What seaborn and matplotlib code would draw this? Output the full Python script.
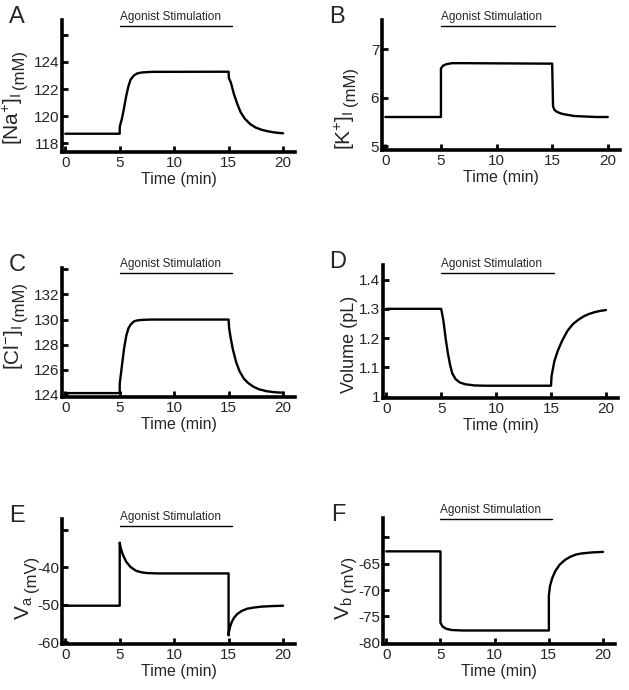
import matplotlib
matplotlib.use("Agg")
import matplotlib.pyplot as plt
import pandas as pd
import seaborn as sns

# ---- data ----
na_time = [0, 5.0, 5.0, 5.03, 5.2, 5.4, 5.6, 5.8, 6.0, 6.3, 6.6, 7.0, 7.5, 8.0,
           15.0, 15.03, 15.2, 15.5, 15.8, 16.1, 16.5, 17.0, 17.5, 18.0, 18.5, 19.0, 19.5, 20.0]
na_conc = [118.7, 118.7, 119.1, 119.3, 119.8, 120.6, 121.5, 122.2, 122.7, 123.0, 123.15, 123.22, 123.25, 123.27,
           123.28, 122.8, 122.5, 121.6, 120.9, 120.3, 119.8, 119.4, 119.15, 119.0, 118.9, 118.82, 118.77, 118.73]

k_time = [0, 5.0, 5.0, 5.2, 5.5, 6.0, 7.0, 15.0, 15.08, 15.2, 15.4, 15.7, 16.0, 16.5, 17.0, 18.0, 19.0, 20.0]
k_conc = [5.6, 5.6, 6.6, 6.66, 6.69, 6.71, 6.71, 6.70, 5.82, 5.75, 5.71, 5.68, 5.66, 5.64, 5.62, 5.61, 5.60, 5.60]

cl_time = [0, 5.0, 5.0, 5.2, 5.4, 5.6, 5.8, 6.0, 6.3, 6.6, 7.0, 7.5, 8.0,
           15.0, 15.05, 15.2, 15.4, 15.7, 16.0, 16.4, 16.8, 17.3, 17.8, 18.5, 19.2, 20.0]
cl_conc = [124.15, 124.15, 124.9, 126.3, 127.7, 128.7, 129.3, 129.6, 129.85, 129.93, 129.97, 129.99, 130.0,
           130.0, 129.3, 128.5, 127.6, 126.6, 125.9, 125.3, 124.95, 124.65, 124.45, 124.3, 124.22, 124.18]

vol_time = [0, 5.0, 5.2, 5.4, 5.6, 5.8, 6.0, 6.3, 6.7, 7.2, 8.0, 9.0,
            15.0, 15.05, 15.3, 15.6, 16.0, 16.5, 17.0, 17.5, 18.0, 18.5, 19.0, 19.5, 20.0]
volume = [1.30, 1.30, 1.26, 1.20, 1.15, 1.11, 1.08, 1.06, 1.048, 1.042, 1.038, 1.037,
          1.037, 1.07, 1.12, 1.155, 1.19, 1.225, 1.248, 1.263, 1.275, 1.283, 1.289, 1.293, 1.296]

va_time = [0, 5.0, 5.0, 5.1, 5.3, 5.6, 6.0, 6.5, 7.0, 7.5, 8.5, 15.0,
           15.0, 15.05, 15.15, 15.3, 15.5, 15.8, 16.2, 16.7, 17.3, 18.0, 19.0, 20.0]
va = [-50.3, -50.3, -33.5, -35.0, -36.8, -38.6, -40.0, -41.0, -41.4, -41.6, -41.7, -41.7,
      -58.2, -57.0, -55.8, -54.6, -53.5, -52.5, -51.7, -51.1, -50.8, -50.55, -50.4, -50.3]

vb_time = [0, 5.0, 5.0, 5.2, 5.5, 6.0, 7.0, 15.0, 15.0, 15.1, 15.3, 15.6, 16.0, 16.5, 17.0, 17.5, 18.0, 19.0, 20.0]
vb = [-62.7, -62.7, -76.2, -76.9, -77.3, -77.55, -77.65, -77.65, -71.0, -69.3, -67.8, -66.4,
      -65.2, -64.3, -63.7, -63.3, -63.1, -62.9, -62.8]

x_ticks = [0, 5, 10, 15, 20]
stim_start, stim_end = 5.0, 15.3
stim_label = "Agonist Stimulation"

W, H = 629, 690

sns.set_style("ticks")
plt.rcParams["font.family"] = ["Liberation Sans", "DejaVu Sans"]
plt.rcParams["mathtext.fontset"] = "custom"
plt.rcParams["mathtext.rm"] = "Liberation Sans"
plt.rcParams["mathtext.it"] = "Liberation Sans:italic"
plt.rcParams["mathtext.default"] = "regular"

# letter, time, values, ylim, yticks, yticklabels, main label, unit label,
# axes box (left, top, right, bottom px), bar y (axes frac), label right x px, label bottom y px, unit dx
panels = [
    ("A", na_time, na_conc, (117.35, 127.1), [118, 120, 122, 124, 126], ["118", "120", "122", "124", ""],
     r"[Na$^{+}$]$_{I}$", "(mM)", (62, 20, 295, 152), 0.955, 25, 145, 2),
    ("B", k_time, k_conc, (4.92, 7.6), [5, 6, 7], ["5", "6", "7"],
     r"[K$^{+}$]$_{I}$", "(mM)", (382, 20, 620, 150), 0.955, 357, 150, 1),
    ("C", cl_time, cl_conc, (123.84, 134.1), [124, 126, 128, 130, 132, 134], ["124", "126", "128", "130", "132", ""],
     r"[Cl$^{-}$]$_{I}$", "(mM)", (62, 268, 295, 397), 0.96, 25, 370, 2),
    ("D", vol_time, volume, (0.995, 1.45), [1.0, 1.1, 1.2, 1.3, 1.4], ["1", "1.1", "1.2", "1.3", "1.4"],
     "Volume (pL)", None, (383, 265, 618, 398), 0.94, 358, 393, 0),
    ("E", va_time, va, (-60.5, -27.2), [-60, -50, -40, -30], ["-60", "-50", "-40", ""],
     r"V$_{a}$", "(mV)", (62, 519, 295, 644), 0.944, 35, 620, 4),
    ("F", vb_time, vb, (-80.2, -56.4), [-80, -75, -70, -65, -60], ["-80", "-75", "-70", "-65", ""],
     r"V$_{b}$", "(mV)", (383, 518, 615, 644), 0.995, 355, 620, 1),
]

fig = plt.figure(figsize=(W / 100, H / 100), dpi=100)

for (letter, t, v, ylim, yt, ytl, lab, unit, box, bar_y, lab_x, lab_y, unit_dx) in panels:
    left, top, right, bottom = box
    ax = fig.add_axes([left / W, 1 - bottom / H, (right - left) / W, (bottom - top) / H])
    df = pd.DataFrame({"time": t, "value": v})
    sns.lineplot(data=df, x="time", y="value", ax=ax, color="black", linewidth=1.7,
                 estimator=None, sort=False)
    ax.set_xlim(-0.3, 21.1)
    ax.set_ylim(*ylim)
    ax.set_xticks(x_ticks)
    ax.set_xticklabels([str(x) for x in x_ticks])
    ax.set_yticks(yt)
    ax.set_yticklabels(ytl)
    ax.tick_params(direction="in", length=4, width=2, labelsize=11, pad=3, color="black")
    ax.tick_params(axis="y", pad=2)
    for s in ["top", "right"]:
        ax.spines[s].set_visible(False)
    for s in ["left", "bottom"]:
        ax.spines[s].set_linewidth(2.6)
        ax.spines[s].set_color("black")
    ax.set_xlabel("Time (min)", fontsize=11.5, labelpad=1.5)
    ax.set_ylabel("")

    # stimulation bar and label
    ax.plot([stim_start, stim_end], [bar_y, bar_y], color="black", linewidth=1.0,
            transform=ax.get_xaxis_transform(), clip_on=False)
    ax.annotate(stim_label, xy=(stim_start, bar_y), xycoords=("data", "axes fraction"),
                xytext=(0, 2), textcoords="offset points", ha="left", va="bottom", fontsize=8.5)

    # panel letter
    fig.text((left - 45) / W, 1 - (top - 3) / H, letter, fontsize=17, ha="center", va="center")

    # y label in two sizes
    main_size = 13 if unit is None else 15
    t1 = fig.text(lab_x / W, 1 - lab_y / H, lab, rotation=90, ha="right", va="bottom", fontsize=main_size)
    if unit is not None:
        ax.annotate(unit, xy=(1, 1), xycoords=t1, xytext=(unit_dx, 4), textcoords="offset pixels",
                    rotation=90, ha="right", va="bottom", fontsize=12, annotation_clip=False)

fig.savefig("out.png", dpi=100)
plt.close(fig)
